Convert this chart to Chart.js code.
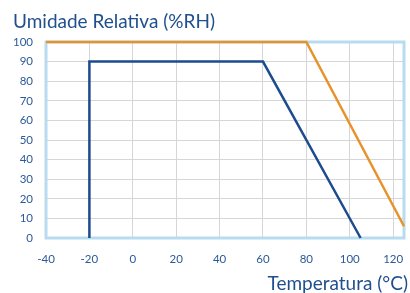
<!DOCTYPE html>
<html>
<head>
<meta charset="utf-8">
<script src="https://cdn.jsdelivr.net/npm/chart.js@4/dist/chart.umd.min.js"></script>
<style>
  html, body { margin: 0; padding: 0; background: #ffffff; }
  #wrap { position: relative; width: 410px; height: 293px; overflow: hidden; }
  canvas { position: absolute; left: 0; top: 0; }
  .ttl { position: absolute; font-family: Lato, "Open Sans", sans-serif; color: #1f4f8e; white-space: nowrap; }
  #ytitle { left: 13px; top: 9px; font-size: 19px; }
  #xtitle { right: 2px; top: 271px; font-size: 19px; }
</style>
</head>
<body>
<div id="wrap">
  <canvas id="c" width="410" height="293"></canvas>
  <div id="ytitle" class="ttl">Umidade Relativa (%RH)</div>
  <div id="xtitle" class="ttl">Temperatura (°C)</div>
</div>
<script>
const xTicks = [-40, -20, 0, 20, 40, 60, 80, 100, 120];
const yTicks = [0, 10, 20, 30, 40, 50, 60, 70, 80, 90, 100];

const orangeTemp = [-40, 80, 125];
const orangeRH   = [100, 100, 6];

const blueTemp = [-20, -20, 60, 105];
const blueRH   = [0, 90, 90, 0];

const toPts = (xs, ys) => xs.map((x, i) => ({ x: x, y: ys[i] }));

const frame = {
  id: 'frame',
  beforeDatasetsDraw(chart) {
    const a = chart.chartArea, ctx = chart.ctx;
    ctx.save();
    ctx.strokeStyle = '#b8dcef';
    ctx.lineWidth = 3;
    ctx.strokeRect(a.left, a.top, a.right - a.left, a.bottom - a.top);
    ctx.restore();
  }
};

new Chart(document.getElementById('c'), {
  type: 'scatter',
  data: {
    datasets: [
      { data: toPts(orangeTemp, orangeRH), showLine: true, borderColor: '#e8922c', borderWidth: 2.5, pointRadius: 0, clip: false, tension: 0 },
      { data: toPts(blueTemp, blueRH), showLine: true, borderColor: '#1c4c8e', borderWidth: 2.5, pointRadius: 0, clip: false, tension: 0 }
    ]
  },
  options: {
    responsive: false,
    animation: false,
    devicePixelRatio: 1,
    layout: { padding: { top: 42, right: 6, left: 0, bottom: 0 } },
    plugins: { legend: { display: false }, tooltip: { enabled: false } },
    scales: {
      x: {
        type: 'linear', min: -40, max: 125,
        afterBuildTicks: s => { s.ticks = xTicks.map(v => ({ value: v })); },
        afterFit: s => { s.height = 55; s.paddingLeft = 0; s.paddingRight = 0; },
        grid: { color: '#d4d6d8', lineWidth: 1, drawTicks: false },
        border: { display: false },
        ticks: { padding: 14, color: '#2b5a98', font: { family: 'Lato', size: 11.5 } }
      },
      y: {
        type: 'linear', min: 0, max: 100,
        afterBuildTicks: s => { s.ticks = yTicks.map(v => ({ value: v })); },
        afterFit: s => { s.width = 46; s.paddingTop = 0; s.paddingBottom = 0; },
        grid: { color: '#d4d6d8', lineWidth: 1, drawTicks: false },
        border: { display: false },
        ticks: { padding: 13, color: '#2b5a98', font: { family: 'Lato', size: 11.5 } }
      }
    }
  },
  plugins: [frame]
});
</script>
</body>
</html>
